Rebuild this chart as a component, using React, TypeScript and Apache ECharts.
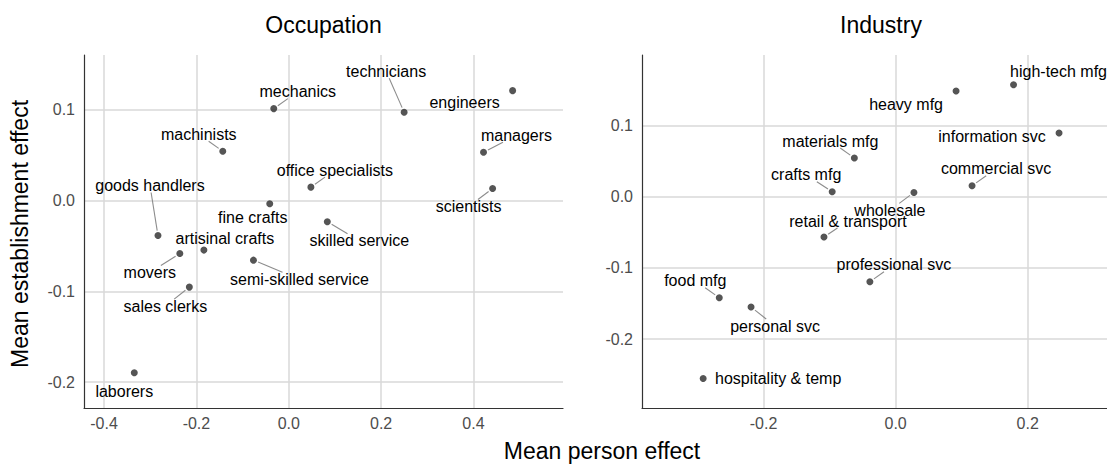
import React, { useEffect, useRef } from "react";
import * as echarts from "echarts";

// ---- Occupation panel ----
const occLabels = [
  "mechanics", "technicians", "engineers", "machinists", "managers",
  "office specialists", "scientists", "fine crafts", "skilled service",
  "goods handlers", "artisinal crafts", "movers", "semi-skilled service",
  "sales clerks", "laborers",
];
const occPerson = [-0.0325, 0.2498, 0.4847, -0.1429, 0.4217, 0.0479, 0.4414, -0.0412, 0.0835, -0.2832, -0.1838, -0.2359, -0.0765, -0.2153, -0.3345];
const occEstab = [0.1015, 0.0975, 0.1213, 0.0545, 0.0534, 0.0149, 0.0134, -0.0035, -0.0233, -0.0384, -0.0545, -0.0583, -0.0656, -0.0953, -0.1897];

// ---- Industry panel ----
const indLabels = [
  "high-tech mfg", "heavy mfg", "information svc", "materials mfg",
  "commercial svc", "crafts mfg", "wholesale", "retail & transport",
  "professional svc", "food mfg", "personal svc", "hospitality & temp",
];
const indPerson = [0.1785, 0.0915, 0.2474, -0.0625, 0.1157, -0.0961, 0.0277, -0.1085, -0.039, -0.267, -0.2189, -0.2914];
const indEstab = [0.1577, 0.1488, 0.0897, 0.0546, 0.0156, 0.0072, 0.0062, -0.0565, -0.1194, -0.1419, -0.155, -0.2554];

// label placement (pixel offsets of the label centre from its point) and leader-line flags
const occLabelOffsets = [[24, -17], [-18, -41], [-48, 12], [-24, -17], [33, -17], [24, -17], [-24, 18], [-17, 14], [32, 19], [-8, -50], [21, -12], [-30, 19], [46, 19], [-24, 19], [-10, 19]];
const occLeader = [true, true, false, true, true, true, true, false, true, true, false, true, true, true, false];
const indLabelOffsets = [[45, -13], [-50, 13], [-67, 3], [-24, -17], [24, -17], [-26, -17], [-24, 18], [24, -16], [24, -17], [-24, -17], [24, 19], [75, 0]];
const indLeader = [false, false, false, true, true, true, true, true, true, true, true, false];

const FONT = "'Liberation Sans', Arial, Helvetica, sans-serif";
const LABEL_SIZE = 16;
const POINT_R = 3.5;

let measureCtx: CanvasRenderingContext2D | null = null;
function textWidth(s: string) {
  if (!measureCtx) {
    measureCtx = document.createElement("canvas").getContext("2d");
  }
  if (!measureCtx) return s.length * LABEL_SIZE * 0.5;
  measureCtx.font = `${LABEL_SIZE}px ${FONT}`;
  return measureCtx.measureText(s).width;
}

function pointSeries(idx: number, xs: number[], ys: number[]) {
  return {
    type: "scatter",
    xAxisIndex: idx,
    yAxisIndex: idx,
    symbol: "circle",
    symbolSize: POINT_R * 2,
    itemStyle: { color: "#2b2b2b" },
    data: xs.map((x, i) => [x, ys[i]]),
    emphasis: { disabled: true },
    z: 3,
  };
}

function labelSeries(idx: number, labels: string[], xs: number[], ys: number[], offsets: number[][], leader: boolean[]) {
  return {
    type: "custom",
    xAxisIndex: idx,
    yAxisIndex: idx,
    clip: false,
    silent: true,
    z: 4,
    data: xs.map((x, i) => [x, ys[i]]),
    renderItem: (params: any, api: any) => {
      const i = params.dataIndex;
      const pt = api.coord([api.value(0), api.value(1)]);
      const px = pt[0];
      const py = pt[1];
      const o = offsets[i];
      const cx = px + o[0];
      const cy = py + o[1];
      const children: any[] = [];
      if (leader[i]) {
        const hw = textWidth(labels[i]) / 2 + 1;
        const hh = LABEL_SIZE / 2 - 1;
        const dx = px - cx;
        const dy = py - cy;
        const t = Math.min(dx !== 0 ? hw / Math.abs(dx) : Infinity, dy !== 0 ? hh / Math.abs(dy) : Infinity);
        const len = Math.sqrt(dx * dx + dy * dy);
        const sx = cx + dx * t;
        const sy = cy + dy * t;
        const ex = px - (dx / len) * (POINT_R + 1.5);
        const ey = py - (dy / len) * (POINT_R + 1.5);
        if (t < 1) {
          children.push({
            type: "line",
            shape: { x1: sx, y1: sy, x2: ex, y2: ey },
            style: { stroke: "#8c8c8c", lineWidth: 1.1 },
          });
        }
      }
      children.push({
        type: "text",
        x: cx,
        y: cy,
        style: {
          text: labels[i],
          font: `${LABEL_SIZE}px ${FONT}`,
          fill: "#000",
          align: "center",
          verticalAlign: "middle",
          textAlign: "center",
          textVerticalAlign: "middle",
        },
      });
      return { type: "group", children };
    },
  };
}

function valueAxis(idx: number, min: number, max: number, splitNumber: number, interval: number, isX: boolean) {
  return {
    type: "value",
    gridIndex: idx,
    min,
    max,
    splitNumber,
    minInterval: interval,
    maxInterval: interval,
    axisLine: { show: true, onZero: false, lineStyle: { color: "#333", width: 1.2 } },
    axisTick: { show: false },
    axisLabel: {
      show: true,
      showMinLabel: false,
      showMaxLabel: false,
      color: "#4d4d4d",
      fontFamily: FONT,
      fontSize: 16,
      margin: isX ? 7 : 9,
      formatter: (v: number) => v.toFixed(1),
    },
    splitLine: {
      show: true,
      showMinLine: false,
      showMaxLine: false,
      lineStyle: { color: "#d9d9d9", width: 1.5 },
    },
  };
}

function textEl(text: string, x: number, y: number, rotation = 0) {
  return {
    type: "text",
    x,
    y,
    rotation,
    style: {
      text,
      font: `23px ${FONT}`,
      fill: "#000",
      align: "center",
      verticalAlign: "middle",
      textAlign: "center",
      textVerticalAlign: "middle",
    },
  };
}

export default function App() {
  const ref = useRef<HTMLDivElement>(null);
  useEffect(() => {
    if (!ref.current) return;
    const chart = echarts.init(ref.current, null, { renderer: "svg" });
    chart.setOption({
      animation: false,
      backgroundColor: "#fff",
      grid: [
        { left: 84, top: 55, width: 479, bottom: 56, containLabel: false, outerBoundsMode: "none" },
        { left: 642, top: 55, right: 0, bottom: 56, containLabel: false, outerBoundsMode: "none" },
      ],
      xAxis: [
        valueAxis(0, -0.4434, 0.5938, 5, 0.2, true),
        valueAxis(1, -0.384, 0.32, 3, 0.2, true),
      ],
      yAxis: [
        valueAxis(0, -0.2286, 0.1606, 4, 0.1, false),
        valueAxis(1, -0.297, 0.1995, 5, 0.1, false),
      ],
      series: [
        pointSeries(0, occPerson, occEstab),
        pointSeries(1, indPerson, indEstab),
        labelSeries(0, occLabels, occPerson, occEstab, occLabelOffsets, occLeader),
        labelSeries(1, indLabels, indPerson, indEstab, indLabelOffsets, indLeader),
      ],
      graphic: [
        textEl("Occupation", 323.5, 25),
        textEl("Industry", 881, 25),
        textEl("Mean person effect", 602, 451),
        textEl("Mean establishment effect", 20, 234, Math.PI / 2),
      ],
    });
    return () => chart.dispose();
  }, []);
  return (
    <div
      ref={ref}
      style={{ position: "fixed", left: 0, top: 0, width: 1107, height: 464 }}
    />
  );
}
